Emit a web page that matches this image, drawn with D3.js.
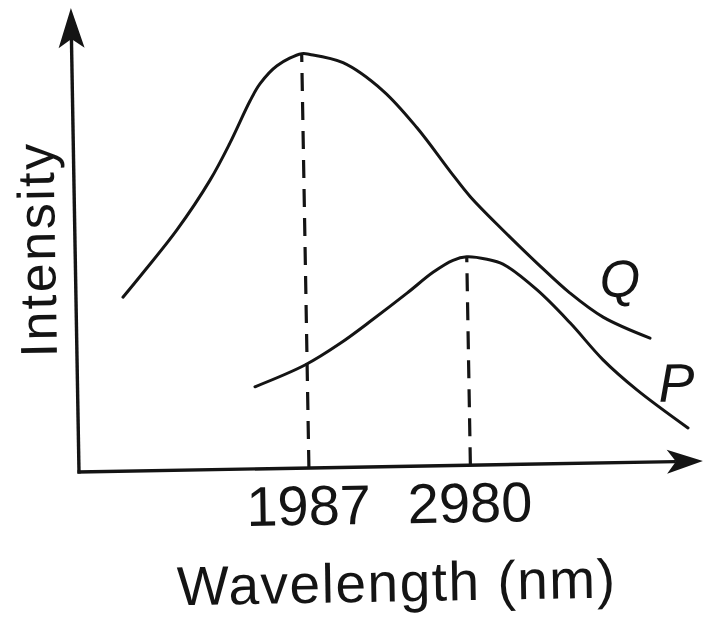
<!DOCTYPE html>
<html><head><meta charset="utf-8">
<script src="https://cdn.jsdelivr.net/npm/d3@7"></script>
<style>html,body{margin:0;padding:0;background:#fff;} svg{display:block;}</style>
</head><body>
<svg id="chart" width="703" height="619"></svg>
<script>
// ---- data (wavelength in nm, intensity in arbitrary units 0-100) ----
const wavelengthQ = [862, 988, 1201, 1410, 1536, 1664, 1728, 1834, 1987, 2038, 2240, 2483, 2688, 2887, 3007, 3206, 3411, 3611, 3812, 4098];
const intensityQ  = [37.5, 42.7, 51.8, 62.4, 70.3, 79.3, 83.0, 86.8, 89.3, 89.1, 87.2, 81.0, 72.9, 63.4, 57.9, 50.5, 43.3, 36.7, 31.4, 26.7];
const wavelengthP = [1664, 1974, 2191, 2397, 2609, 2771, 2895, 2980, 3104, 3202, 3409, 3608, 3807, 4012, 4322];
const intensityP  = [17.7, 22.2, 26.7, 31.8, 37.3, 41.7, 44.2, 44.9, 44.3, 43.2, 37.5, 30.3, 22.2, 15.6, 7.2];
const peakWavelengths = [1987, 2980];
const tickLabels = ["1987", "2980"];
const seriesNames = ["Q", "P"];
const xTitle = "Wavelength (nm)";
const yTitle = "Intensity";

// ---- layout ----
const W = 703, H = 619;
const origin = {x: 79, y: 472};
const xScale = d3.scaleLinear().domain([573, 4410]).range([origin.x, 703]);
const yScale = d3.scaleLinear().domain([0, 100]).range([origin.y, 8]);

const svg = d3.select("#chart");
svg.append("rect").attr("width", W).attr("height", H).attr("fill", "#fff");
const g = svg.append("g").attr("transform", `rotate(-1, ${origin.x}, ${origin.y})`);

const ink = "#141414";
const font = "'Liberation Sans', Arial, Helvetica, sans-serif";

// axes
const x0 = xScale.range()[0], x1 = xScale.range()[1];
const y0 = yScale.range()[0], y1 = yScale.range()[1];
const headLen = 36, headHalf = 13, notch = 9;
g.append("line").attr("x1", x0).attr("y1", y0 + 1.5).attr("x2", x0).attr("y2", y1 + headLen - notch)
  .attr("stroke", ink).attr("stroke-width", 3.4);
g.append("line").attr("x1", x0 - 1.5).attr("y1", y0).attr("x2", x1 - headLen + notch).attr("y2", y0)
  .attr("stroke", ink).attr("stroke-width", 3.4);
// arrow heads
g.append("path").attr("d", `M${x0},${y1} L${x0 - headHalf},${y1 + headLen + 4} L${x0},${y1 + headLen - notch + 4} L${x0 + headHalf},${y1 + headLen + 4} Z`)
  .attr("fill", ink);
g.append("path").attr("d", `M${x1},${y0} L${x1 - headLen},${y0 - headHalf + 1} L${x1 - headLen + notch},${y0} L${x1 - headLen},${y0 + headHalf - 1} Z`)
  .attr("fill", ink);

// curves
const line = d3.line().x(d => xScale(d[0])).y(d => yScale(d[1])).curve(d3.curveCatmullRom.alpha(0.5));
const series = [
  {name: seriesNames[0], pts: d3.zip(wavelengthQ, intensityQ)},
  {name: seriesNames[1], pts: d3.zip(wavelengthP, intensityP)}
];
g.selectAll("path.curve").data(series).join("path").attr("class", "curve")
  .attr("d", d => line(d.pts)).attr("fill", "none").attr("stroke", ink).attr("stroke-width", 3)
  .attr("stroke-linecap", "round");

// dashed drop lines from peaks
const peakVals = [
  intensityQ[wavelengthQ.indexOf(peakWavelengths[0])],
  intensityP[wavelengthP.indexOf(peakWavelengths[1])]
];
g.selectAll("line.drop").data(peakWavelengths).join("line").attr("class", "drop")
  .attr("x1", d => xScale(d)).attr("x2", d => xScale(d))
  .attr("y1", yScale(0)).attr("y2", (d, i) => yScale(peakVals[i]))
  .attr("stroke", ink).attr("stroke-width", 3.2).attr("stroke-dasharray", "18,11");

// tick labels
g.selectAll("text.tick").data(peakWavelengths).join("text").attr("class", "tick")
  .attr("x", d => xScale(d) - 1).attr("y", 529)
  .attr("text-anchor", "middle").attr("font-family", font).attr("font-size", 56).attr("fill", ink)
  .text((d, i) => tickLabels[i]);

// axis titles
g.append("text").attr("x", 394).attr("y", 607).attr("text-anchor", "middle")
  .attr("font-family", font).attr("font-size", 55).attr("fill", ink)
  .attr("textLength", 438).attr("lengthAdjust", "spacing").text(xTitle);
g.append("text").attr("transform", "translate(59,250) rotate(-90)").attr("text-anchor", "middle")
  .attr("font-family", font).attr("font-size", 52).attr("fill", ink)
  .attr("textLength", 214).attr("lengthAdjust", "spacing").text(yTitle);

// series labels
g.append("text").attr("x", 603).attr("y", 306).attr("font-family", font).attr("font-style", "italic")
  .attr("font-size", 52).attr("fill", ink).text(seriesNames[0]);
g.append("text").attr("x", 660).attr("y", 412).attr("font-family", font).attr("font-style", "italic")
  .attr("font-size", 54).attr("fill", ink).text(seriesNames[1]);
</script>
</body></html>
